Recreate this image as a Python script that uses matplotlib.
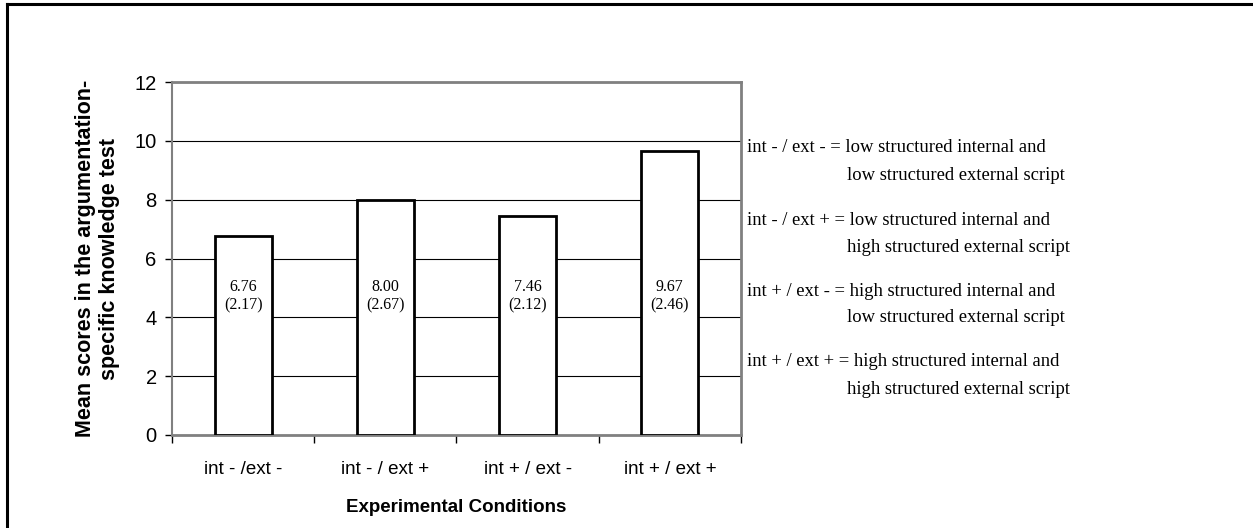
import matplotlib
matplotlib.use("Agg")
import matplotlib.pyplot as plt
from matplotlib.lines import Line2D

categories = ["int - /ext -", "int - / ext +", "int + / ext -", "int + / ext +"]
means = [6.76, 8.00, 7.46, 9.67]
sds = [2.17, 2.67, 2.12, 2.46]
legend_keys = ["int - / ext - = ", "int - / ext + = ", "int + / ext - = ", "int + / ext + = "]
legend_line1 = ["low structured internal and", "low structured internal and",
                "high structured internal and", "high structured internal and"]
legend_line2 = ["low structured external script", "high structured external script",
                "low structured external script", "high structured external script"]

W, H = 1253, 528
fig = plt.figure(figsize=(W / 100, H / 100), dpi=100)
sans = "Liberation Sans"
serif = "Liberation Serif"

# outer frame (left and top)
fig.add_artist(Line2D([6.5 / W, 6.5 / W], [0, 1 - 3.5 / H], transform=fig.transFigure, color="black", lw=2.2))
fig.add_artist(Line2D([6.5 / W, 1], [1 - 3.5 / H, 1 - 3.5 / H], transform=fig.transFigure, color="black", lw=2.2))

ax = fig.add_axes([172 / W, 1 - 435 / H, (741 - 172) / W, (435 - 82) / H])
x = list(range(len(categories)))
ax.bar(x, means, width=0.4, color="white", edgecolor="black", linewidth=2, zorder=3)
ax.set_xlim(-0.5, len(categories) - 0.5)
ax.set_ylim(0, 12)
ax.set_yticks(range(0, 13, 2))
ax.yaxis.grid(True, color="black", linewidth=0.8, zorder=0)
ax.set_axisbelow(True)
for s in ["top", "right", "left", "bottom"]:
    ax.spines[s].set_color("#808080")
    ax.spines[s].set_linewidth(2)
ax.spines["left"].set_linewidth(1.5)

ax.set_xticks(x)
ax.set_xticklabels(categories, fontsize=13.5, family=sans)
ax.tick_params(axis="x", length=0, pad=19)
ax.set_xticks([i - 0.5 for i in range(len(categories) + 1)], minor=True)
ax.tick_params(axis="x", which="minor", length=6, width=1, color="black", direction="out")
ax.tick_params(axis="y", length=5, width=1, color="black", direction="out", labelsize=14.5, pad=6)
for lbl in ax.get_yticklabels():
    lbl.set_family(sans)

for i, (m, s) in enumerate(zip(means, sds)):
    ax.text(i, 4.72, f"{m:.2f}\n({s:.2f})", ha="center", va="center", fontsize=11.5,
            family=serif, linespacing=1.2, zorder=4)

ax.set_ylabel("Mean scores in the argumentation-\nspecific knowledge test", fontsize=15.5,
              fontweight="bold", family=sans, linespacing=1.15)
ax.yaxis.set_label_coords(-0.092, 0.5)
ax.set_xlabel("Experimental Conditions", fontsize=13.5, fontweight="bold", family=sans)
ax.xaxis.set_label_coords(0.5, -0.181)

# legend text
tops = [148, 220, 291, 362]
for k, l1, l2, y in zip(legend_keys, legend_line1, legend_line2, tops):
    fig.text(747 / W, 1 - y / H, k + l1, fontsize=13.4, family=serif, va="center", ha="left")
    fig.text(847 / W, 1 - (y + 27) / H, l2, fontsize=13.4, family=serif, va="center", ha="left")

fig.savefig("out.png", dpi=100, facecolor="white")
